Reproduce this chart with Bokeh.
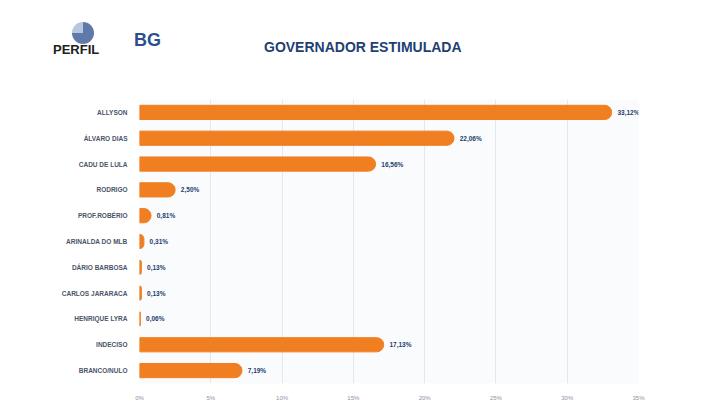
from bokeh.plotting import figure
from bokeh.models import FixedTicker, Range1d, ColumnDataSource, Div
from bokeh.layouts import column
from bokeh.embed import file_html
from bokeh.resources import INLINE
from bokeh.core.properties import value

names = ["ALLYSON", "ÁLVARO DIAS", "CADU DE LULA", "RODRIGO", "PROF.ROBÉRIO",
         "ARINALDA DO MLB", "DÁRIO BARBOSA", "CARLOS JARARACA", "HENRIQUE LYRA",
         "INDECISO", "BRANCO/NULO"]
vals = [33.12, 22.06, 16.56, 2.50, 0.81, 0.31, 0.13, 0.13, 0.06, 17.13, 7.19]
labels = ["33,12%", "22,06%", "16,56%", "2,50%", "0,81%", "0,31%", "0,13%", "0,13%",
          "0,06%", "17,13%", "7,19%"]
ticks = [0, 5, 10, 15, 20, 25, 30, 35]
title = "GOVERNADOR ESTIMULADA"

F = "font-family:'Liberation Sans',Arial,sans-serif;font-weight:bold;position:absolute;"
html = (
    '<div style="position:relative;width:702px;height:90px;">'
    '<div style="position:absolute;left:72px;top:22px;width:22px;height:22px;border-radius:50%;'
    'background:conic-gradient(#5f79a8 0 75%, #b8c6de 75% 100%);"></div>'
    f'<div style="{F}left:53px;top:41px;font-size:13px;color:#222;">PERFIL</div>'
    f'<div style="{F}left:134px;top:28px;font-size:18px;color:#2c4f8c;">BG</div>'
    f'<div style="{F}left:264px;top:37px;font-size:14px;color:#1f3f73;">{title}</div>'
    '</div>'
)
h = Div(text=html, width=702, height=90, margin=(0, 0, 0, 0))

src = ColumnDataSource(dict(n=names, v=vals, l=labels, lx=[v + 0.4 for v in vals]))

p = figure(width=702, height=317, y_range=list(reversed(names)), x_range=Range1d(0, 35),
           output_backend="svg", toolbar_location=None,
           min_border_left=139, min_border_right=64, min_border_top=9, min_border_bottom=24)
p.background_fill_color = "#fafbfd"
p.border_fill_color = "white"
p.outline_line_color = None

p.hbar(y="n", right="v", left=0, height=0.55, source=src, color="#f07f22",
       border_radius=(0, 7, 7, 0))
p.text(x="lx", y="n", text="l", source=src, text_font=value("Liberation Sans"),
       text_font_size="6.5px", text_font_style="bold", text_color="#24406e",
       text_baseline="middle")

p.xaxis.ticker = FixedTicker(ticks=ticks)
p.xaxis.major_label_overrides = {t: f"{t}%" for t in ticks}
p.xaxis.axis_line_color = None
p.xaxis.major_tick_line_color = None
p.xaxis.minor_tick_line_color = None
p.xaxis.major_label_text_font_size = "6px"
p.xaxis.major_label_text_color = "#8a94a6"
p.yaxis.axis_line_color = None
p.yaxis.major_tick_line_color = None
p.yaxis.major_label_text_font_size = "6.5px"
p.yaxis.major_label_text_font_style = "bold"
p.yaxis.major_label_text_color = "#4a5568"
p.yaxis.major_label_standoff = 6
p.ygrid.grid_line_color = None
p.xgrid.grid_line_color = "#e3e8ef"
for ax in (p.xaxis, p.yaxis):
    ax.major_label_text_font = "Liberation Sans"

open("out.html", "w").write(file_html(column(h, p, spacing=0), INLINE))
